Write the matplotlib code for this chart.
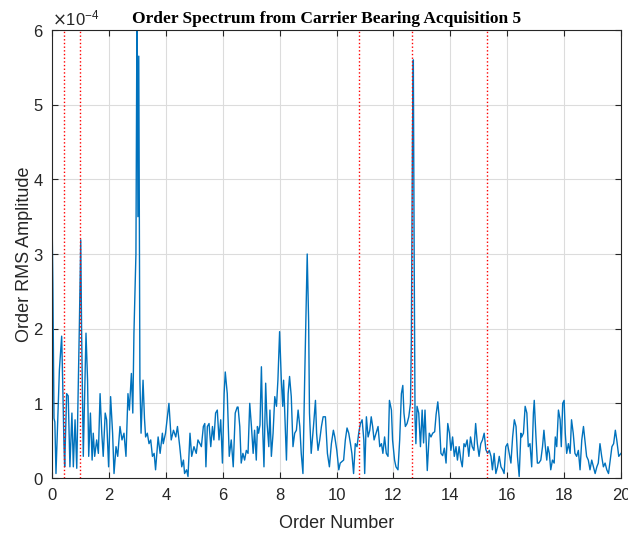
import matplotlib.pyplot as plt
import numpy as np
from matplotlib.ticker import ScalarFormatter

# order spectrum (amplitude in units of 1e-4)
orders = [
    0.00, 0.03, 0.07, 0.10, 0.14, 0.26, 0.34, 0.375, 0.42, 0.445, 0.515, 0.57, 0.63, 0.70, 0.75, 0.81, 0.87,
    0.96, 1.01, 1.04, 1.10, 1.195, 1.25, 1.29, 1.35, 1.41, 1.45, 1.50, 1.57, 1.63, 1.69, 1.75, 1.80, 1.87,
    1.92, 1.99, 2.06, 2.13, 2.18, 2.25, 2.31, 2.39, 2.46, 2.53, 2.60, 2.67, 2.72, 2.79, 2.84, 2.88,
    2.95, 2.99, 3.02, 3.05, 3.09, 3.13, 3.20, 3.25, 3.29, 3.35, 3.41, 3.47, 3.53, 3.59, 3.64, 3.73, 3.80,
    3.88, 3.91, 3.99, 4.11, 4.19, 4.27, 4.35, 4.41, 4.49, 4.56, 4.62, 4.66, 4.73, 4.78, 4.85, 4.91, 4.99,
    5.07, 5.13, 5.20, 5.25, 5.32, 5.37, 5.41, 5.46, 5.52, 5.58, 5.64, 5.69, 5.75, 5.81, 5.87, 5.93, 5.99,
    6.05, 6.09, 6.16, 6.23, 6.30, 6.37, 6.44, 6.51, 6.54, 6.60, 6.65, 6.71, 6.77, 6.83, 6.89, 6.95, 7.01,
    7.07, 7.12, 7.18, 7.22, 7.26, 7.31, 7.36, 7.41, 7.45, 7.51, 7.56, 7.62, 7.66, 7.71, 7.77, 7.83, 7.89,
    7.94, 8.00, 8.06, 8.11, 8.14, 8.18, 8.24, 8.30, 8.35, 8.41, 8.47, 8.53, 8.59, 8.65, 8.71, 8.76, 8.82,
    8.88, 8.97, 9.02, 9.05, 9.11, 9.19, 9.26, 9.30, 9.35, 9.41, 9.47, 9.53, 9.61, 9.68, 9.75, 9.82, 9.89,
    9.94, 10.01, 10.08, 10.13, 10.19, 10.25, 10.31, 10.37, 10.43, 10.49, 10.54, 10.60, 10.66, 10.72, 10.78,
    10.84, 10.90, 10.96, 10.99, 11.05, 11.11, 11.17, 11.22, 11.27, 11.32, 11.39, 11.46, 11.52, 11.58, 11.63,
    11.69, 11.75, 11.81, 11.86, 11.93, 11.97, 12.04, 12.09, 12.16, 12.22, 12.28, 12.33, 12.37, 12.42, 12.48,
    12.54, 12.60, 12.63, 12.67, 12.70, 12.73, 12.76, 12.79, 12.83, 12.89, 12.95, 13.01, 13.06, 13.11, 13.19,
    13.26, 13.32, 13.38, 13.45, 13.50, 13.56, 13.61, 13.67, 13.73, 13.79, 13.85, 13.91, 13.97, 14.02, 14.08,
    14.14, 14.20, 14.25, 14.31, 14.37, 14.42, 14.48, 14.53, 14.59, 14.65, 14.71, 14.77, 14.83, 14.89, 14.95,
    15.01, 15.07, 15.13, 15.19, 15.25, 15.31, 15.37, 15.43, 15.48, 15.54, 15.60, 15.66, 15.72, 15.78, 15.84,
    15.89, 15.95, 16.01, 16.07, 16.13, 16.19, 16.25, 16.31, 16.36, 16.42, 16.48, 16.51, 16.57, 16.63, 16.69,
    16.74, 16.80, 16.86, 16.92, 16.95, 17.01, 17.06, 17.11, 17.18, 17.24, 17.29, 17.34, 17.39, 17.43, 17.48,
    17.53, 17.59, 17.65, 17.69, 17.74, 17.80, 17.86, 17.90, 17.95, 18.00, 18.04, 18.09, 18.15, 18.21, 18.26,
    18.32, 18.38, 18.44, 18.50, 18.56, 18.62, 18.68, 18.73, 18.79, 18.85, 18.91, 18.97, 19.03, 19.09, 19.15,
    19.20, 19.26, 19.32, 19.38, 19.44, 19.50, 19.56, 19.62, 19.68, 19.74, 19.80, 19.85, 19.92, 20.00,
]
amp_e4 = [
    3.55, 2.6, 0.8, 0.75, 0.06, 1.45, 1.9, 1.3, 0.46, 0.15, 1.13, 1.1, 0.15, 0.87, 0.15, 0.78, 0.13,
    2.0, 3.19, 1.98, 0.29, 1.94, 1.31, 0.29, 0.87, 0.24, 0.6, 0.29, 0.51, 0.33, 1.13, 0.6, 0.29, 0.87,
    0.78, 0.15, 1.09, 0.6, 0.06, 0.42, 0.29, 0.69, 0.51, 0.6, 0.29, 1.13, 0.91, 1.4, 0.87, 1.94,
    3.0, 6.6, 3.5, 5.65, 1.3, 0.6, 1.31, 0.8, 0.55, 0.6, 0.46, 0.51, 0.29, 0.33, 0.11, 0.55, 0.33,
    0.6, 0.46, 0.6, 1.0, 0.51, 0.64, 0.55, 0.69, 0.42, 0.15, 0.24, 0.06, 0.11, 0.02, 0.6, 0.29, 0.42,
    0.33, 0.51, 0.46, 0.42, 0.69, 0.73, 0.15, 0.69, 0.73, 0.42, 0.69, 0.51, 0.87, 0.91, 0.51, 0.78, 0.2,
    1.13, 1.42, 1.13, 0.29, 0.51, 0.15, 0.87, 0.95, 0.95, 0.69, 0.2, 0.33, 0.24, 0.37, 0.33, 1.0, 0.69,
    0.33, 0.64, 0.24, 0.69, 0.6, 0.71, 1.49, 0.6, 0.15, 1.27, 0.73, 0.42, 0.91, 0.29, 0.6, 1.09, 0.96,
    1.31, 1.96, 1.31, 0.96, 1.31, 0.87, 0.24, 1.13, 1.36, 1.09, 0.42, 0.6, 0.64, 0.91, 0.69, 0.33, 0.06,
    1.31, 3.0, 2.1, 0.87, 0.33, 0.69, 1.04, 0.6, 0.37, 0.51, 0.69, 0.82, 0.82, 0.33, 0.15, 0.46, 0.64,
    0.55, 0.37, 0.11, 0.2, 0.22, 0.24, 0.51, 0.67, 0.6, 0.46, 0.33, 0.06, 0.46, 0.42, 0.6,
    0.73, 0.78, 0.51, 0.06, 0.82, 0.55, 0.64, 0.82, 0.69, 0.51, 0.6, 0.69, 0.42, 0.46, 0.33,
    0.55, 0.33, 0.29, 1.04, 0.91, 0.51, 0.24, 0.15, 0.11, 0.51, 1.13, 1.24, 0.87, 0.69, 0.73,
    0.82, 1.0, 1.85, 4.6, 5.6, 2.9, 0.8, 0.46, 0.96, 0.87, 0.42, 0.91, 0.47, 0.91, 0.1,
    0.6, 0.55, 0.6, 0.62, 0.85, 1.02, 0.8, 0.33, 0.3, 0.4, 0.2, 0.73, 0.6, 0.37, 0.55,
    0.29, 0.42, 0.24, 0.42, 0.24, 0.15, 0.46, 0.42, 0.51, 0.29, 0.55, 0.42, 0.37, 0.73, 0.46,
    0.29, 0.46, 0.51, 0.6, 0.38, 0.33, 0.37, 0.29, 0.11, 0.33, 0.06, 0.15, 0.29, 0.15, 0.11,
    0.06, 0.42, 0.46, 0.33, 0.2, 0.55, 0.78, 0.69, 0.29, 0.02, 0.6, 0.55, 0.6, 0.96, 0.87,
    0.42, 0.46, 0.15, 0.87, 1.04, 0.55, 0.2, 0.2, 0.24, 0.42, 0.64, 0.42, 0.24, 0.42, 0.33,
    0.11, 0.24, 0.2, 0.55, 0.42, 0.91, 0.78, 0.42, 1.0, 1.04, 0.6, 0.33, 0.46, 0.33, 0.78,
    0.6, 0.33, 0.29, 0.37, 0.11, 0.51, 0.69, 0.51, 0.29, 0.24, 0.11, 0.24, 0.15, 0.06, 0.15,
    0.2, 0.46, 0.29, 0.15, 0.2, 0.11, 0.06, 0.24, 0.42, 0.46, 0.64, 0.51, 0.29, 0.33,
]
# characteristic orders marked with red dotted lines
fault_orders = [0.42, 0.98, 10.78, 12.66, 15.28]

plt.rcParams['font.family'] = ['Liberation Sans', 'DejaVu Sans']
edge = '#262626'

fig = plt.figure(figsize=(6.28, 5.38), dpi=100)
ax = fig.add_axes([0.0828, 0.1115, 0.9061, 0.8327])

ax.plot(orders, np.array(amp_e4) * 1e-4, color='#0072BD', lw=1.0)
for fo in fault_orders:
    ax.axvline(fo, color='red', ls=':', lw=1.0)

ax.set_xlim(0, 20)
ax.set_ylim(0, 6e-4)
ax.set_xticks(np.arange(0, 21, 2))
ax.set_yticks(np.arange(0, 7e-4, 1e-4))
fmt = ScalarFormatter(useMathText=True)
fmt.set_powerlimits((-3, 3))
ax.yaxis.set_major_formatter(fmt)
ax.yaxis.get_offset_text().set_fontsize(12)
ax.yaxis.get_offset_text().set_color(edge)

ax.grid(True, color='#dcdcdc', lw=0.8)
ax.set_axisbelow(True)
ax.tick_params(direction='in', top=True, right=True, labelsize=12, colors=edge, length=4)
ax.tick_params(axis='x', pad=7)
ax.tick_params(axis='y', pad=6)
for s in ax.spines.values():
    s.set_color(edge)
    s.set_linewidth(0.8)

ax.set_xlabel('Order Number', fontsize=13, color=edge, labelpad=9)
ax.set_ylabel('Order RMS Amplitude', fontsize=13, color=edge, labelpad=0)
ax.set_title('Order Spectrum from Carrier Bearing Acquisition 5', fontsize=12.5,
             fontweight='bold', family='Liberation Serif', pad=5, x=0.483)

plt.savefig('out.png', dpi=100)
